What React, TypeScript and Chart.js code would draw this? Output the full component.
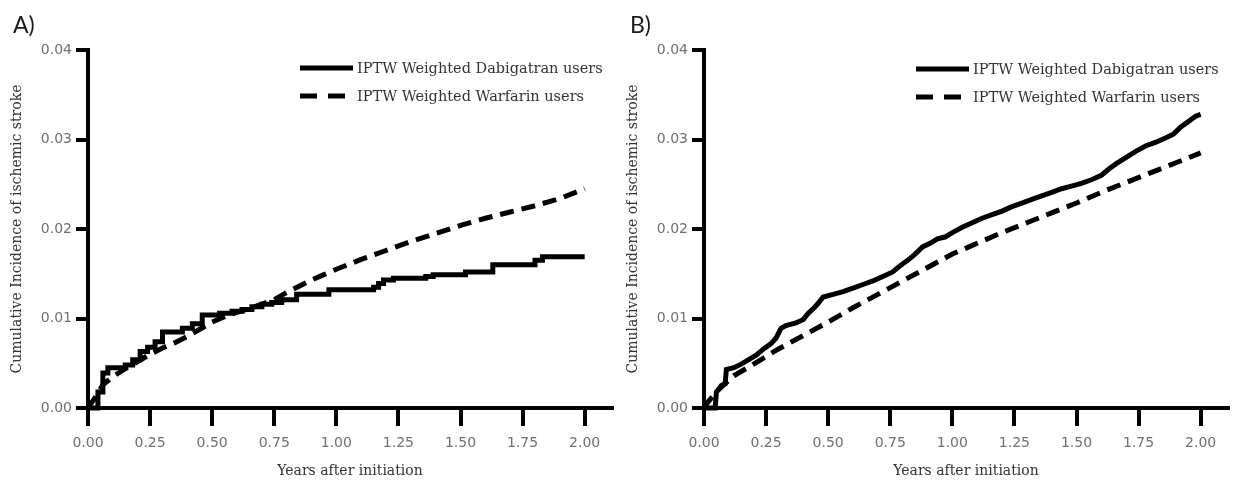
import React, { useEffect, useRef } from "react";
import { Chart, registerables } from "chart.js";

Chart.register(...registerables);

// ---------- Data ----------
const seriesLabels = ["IPTW Weighted Dabigatran users", "IPTW Weighted Warfarin users"];
const xTickValues = [0, 0.25, 0.5, 0.75, 1, 1.25, 1.5, 1.75, 2];
const yTickValues = [0, 0.01, 0.02, 0.03, 0.04];

// Panel A – Dabigatran (step curve)
const aDabYears = [0, 0.04, 0.06, 0.08, 0.15, 0.18, 0.21, 0.24, 0.27, 0.3, 0.38, 0.42, 0.46, 0.53, 0.58, 0.62, 0.66, 0.7, 0.74, 0.78, 0.84, 0.97, 1.15, 1.17, 1.19, 1.23, 1.36, 1.39, 1.52, 1.63, 1.8, 1.83, 2.0];
const aDabValues = [0, 0.0018, 0.0039, 0.0045, 0.0048, 0.0054, 0.0063, 0.0068, 0.0074, 0.0085, 0.0089, 0.0094, 0.0104, 0.0106, 0.0108, 0.011, 0.0113, 0.0116, 0.0118, 0.0121, 0.0127, 0.0132, 0.0135, 0.0139, 0.0143, 0.0145, 0.0147, 0.0149, 0.0152, 0.016, 0.0165, 0.0169, 0.0169];
// Panel A – Warfarin
const aWarYears = [0, 0.03, 0.06, 0.1, 0.15, 0.2, 0.25, 0.3, 0.35, 0.4, 0.45, 0.5, 0.55, 0.6, 0.65, 0.7, 0.75, 0.8, 0.85, 0.9, 0.95, 1.0, 1.1, 1.2, 1.3, 1.4, 1.5, 1.6, 1.7, 1.8, 1.9, 2.0];
const aWarValues = [0, 0.0012, 0.0026, 0.0035, 0.0044, 0.0052, 0.006, 0.0067, 0.0073, 0.008, 0.0088, 0.0096, 0.0102, 0.0107, 0.0111, 0.0116, 0.0121, 0.0129, 0.0136, 0.0143, 0.0149, 0.0155, 0.0166, 0.0176, 0.0186, 0.0195, 0.0204, 0.0212, 0.0219, 0.0226, 0.0234, 0.0245];

// Panel B – Dabigatran (fine-grained jagged curve)
const bDabYears = [0, 0.045, 0.05, 0.07, 0.085, 0.09, 0.12, 0.15, 0.18, 0.21, 0.24, 0.27, 0.29, 0.31, 0.33, 0.37, 0.4, 0.42, 0.44, 0.46, 0.48, 0.52, 0.56, 0.6, 0.64, 0.68, 0.72, 0.76, 0.79, 0.82, 0.85, 0.88, 0.91, 0.94, 0.97, 1.0, 1.04, 1.08, 1.12, 1.16, 1.2, 1.24, 1.28, 1.32, 1.36, 1.4, 1.44, 1.48, 1.52, 1.56, 1.6, 1.63, 1.66, 1.7, 1.74, 1.78, 1.82, 1.86, 1.89, 1.92, 1.95, 1.98, 2.0];
const bDabValues = [0, 0, 0.0018, 0.0025, 0.0027, 0.0043, 0.0045, 0.0049, 0.0054, 0.0059, 0.0066, 0.0072, 0.0078, 0.0089, 0.0092, 0.0095, 0.0099, 0.0106, 0.0111, 0.0117, 0.0124, 0.0127, 0.013, 0.0134, 0.0138, 0.0142, 0.0147, 0.0152, 0.0159, 0.0165, 0.0172, 0.018, 0.0184, 0.0189, 0.0191, 0.0196, 0.0202, 0.0207, 0.0212, 0.0216, 0.022, 0.0225, 0.0229, 0.0233, 0.0237, 0.0241, 0.0245, 0.0248, 0.0251, 0.0255, 0.026, 0.0267, 0.0273, 0.028, 0.0287, 0.0293, 0.0297, 0.0302, 0.0306, 0.0314, 0.032, 0.0326, 0.0328];
// Panel B – Warfarin
const bWarYears = [0, 0.02, 0.05, 0.08, 0.12, 0.2, 0.3, 0.4, 0.5, 0.6, 0.7, 0.8, 0.9, 1.0, 1.1, 1.2, 1.3, 1.4, 1.5, 1.6, 1.7, 1.8, 1.9, 2.0];
const bWarValues = [0, 0.0008, 0.0018, 0.0026, 0.0036, 0.0049, 0.0066, 0.0081, 0.0096, 0.0112, 0.0127, 0.0142, 0.0157, 0.0172, 0.0184, 0.0196, 0.0207, 0.0218, 0.0229, 0.0241, 0.0252, 0.0263, 0.0274, 0.0285];

const toPoints = (xs: number[], ys: number[]) => xs.map((x, i) => ({ x, y: ys[i] }));

// ---------- Decorations plugin (panel letter + legend) ----------
const decorPlugin = {
  id: "decor",
  afterDraw(chart: any, _args: any, opts: any) {
    const { ctx, chartArea } = chart;
    ctx.save();
    ctx.fillStyle = "#1a1a1a";
    ctx.font = '23px Lato, "Open Sans", sans-serif';
    ctx.textBaseline = "alphabetic";
    ctx.textAlign = "left";
    ctx.fillText(opts.letter, opts.letterX, 33);

    const x0 = chartArea.left + opts.legendOffset;
    chart.data.datasets.forEach((ds: any, i: number) => {
      const y = opts.legendY[i];
      const dashed = Array.isArray(ds.borderDash) && ds.borderDash.length > 0;
      ctx.beginPath();
      ctx.lineWidth = 5;
      ctx.lineCap = "butt";
      ctx.strokeStyle = ds.borderColor;
      ctx.setLineDash(dashed ? [17, 11] : []);
      ctx.moveTo(x0, y);
      ctx.lineTo(x0 + (dashed ? 45 : 53), y);
      ctx.stroke();
      ctx.setLineDash([]);
      ctx.font = '14.5px "DejaVu Serif", serif';
      ctx.fillStyle = "#333";
      ctx.textBaseline = "middle";
      ctx.fillText(ds.label, x0 + 57, y + 1);
    });
    ctx.restore();
  },
};

type PanelProps = {
  letter: string;
  dabX: number[];
  dabY: number[];
  dabStepped: boolean;
  warX: number[];
  warY: number[];
  yAxisWidth: number;
  rightPad: number;
  yTitlePad: number;
  letterX: number;
  legendY: number[];
};

function Panel(p: PanelProps) {
  const ref = useRef<HTMLCanvasElement | null>(null);
  useEffect(() => {
    if (!ref.current) return;
    const tickFont = { family: '"DejaVu Sans", sans-serif', size: 14 };
    const titleFont = { family: '"DejaVu Serif", serif', size: 14, lineHeight: 1.2 };
    const chart = new Chart(ref.current, {
      type: "line",
      data: {
        datasets: [
          {
            label: seriesLabels[0],
            data: toPoints(p.dabX, p.dabY),
            borderColor: "#000",
            backgroundColor: "#000",
            borderWidth: 5,
            stepped: p.dabStepped,
            tension: 0,
            pointRadius: 0,
            fill: false,
            clip: false as any,
            borderJoinStyle: "miter",
          },
          {
            label: seriesLabels[1],
            data: toPoints(p.warX, p.warY),
            borderColor: "#000",
            backgroundColor: "#000",
            borderWidth: 5,
            borderDash: [14, 8],
            borderCapStyle: "butt",
            tension: 0,
            pointRadius: 0,
            fill: false,
            clip: false as any,
          },
        ],
      },
      options: {
        responsive: false,
        animation: false,
        layout: { padding: { top: 50, right: p.rightPad, left: 0, bottom: 0 } },
        plugins: {
          legend: { display: false },
          tooltip: { enabled: false },
          decor: {
            letter: p.letter,
            letterX: p.letterX,
            legendOffset: 212,
            legendY: p.legendY,
          },
        } as any,
        scales: {
          x: {
            type: "linear",
            min: 0,
            max: 2.11,
            afterFit: (s: any) => {
              s.height = 75;
            },
            afterBuildTicks: (s: any) => {
              s.ticks = xTickValues.map((v) => ({ value: v }));
            },
            ticks: {
              callback: (v: any) => Number(v).toFixed(2),
              font: tickFont,
              color: "#707070",
              padding: 9,
              maxRotation: 0,
              autoSkip: false,
            },
            grid: {
              drawOnChartArea: false,
              drawTicks: true,
              tickLength: 18,
              tickWidth: 4,
              tickColor: "#000",
              lineWidth: 4,
              color: "#000",
            },
            border: { display: true, width: 4, color: "#000" },
            title: {
              display: true,
              text: "Years after initiation",
              font: titleFont,
              color: "#333",
              padding: { top: 0, bottom: 3 },
            },
          },
          y: {
            type: "linear",
            min: 0,
            max: 0.04,
            afterFit: (s: any) => {
              s.width = p.yAxisWidth;
            },
            afterBuildTicks: (s: any) => {
              s.ticks = yTickValues.map((v) => ({ value: v }));
            },
            ticks: {
              callback: (v: any) => Number(v).toFixed(2),
              font: tickFont,
              color: "#707070",
              padding: 4,
            },
            grid: {
              drawOnChartArea: false,
              drawTicks: true,
              tickLength: 12,
              tickWidth: 4,
              tickColor: "#000",
              lineWidth: 4,
              color: "#000",
            },
            border: { display: true, width: 4, color: "#000" },
            title: {
              display: true,
              text: "Cumulative Incidence of ischemic stroke",
              font: titleFont,
              color: "#333",
              padding: { top: p.yTitlePad, bottom: 0 },
            },
          },
        },
      } as any,
      plugins: [decorPlugin],
    });
    return () => chart.destroy();
  }, []);
  return <canvas ref={ref} width={618} height={483} style={{ display: "block", width: 618, height: 483 }} />;
}

export default function App() {
  return (
    <div
      style={{
        position: "fixed",
        left: 0,
        top: 0,
        width: 1236,
        height: 483,
        background: "#fff",
        display: "flex",
      }}
    >
      <Panel
        letter="A)"
        dabX={aDabYears}
        dabY={aDabValues}
        dabStepped={true}
        warX={aWarYears}
        warY={aWarValues}
        yAxisWidth={88}
        rightPad={6}
        yTitlePad={9}
        letterX={13}
        legendY={[68, 96]}
      />
      <Panel
        letter="B)"
        dabX={bDabYears}
        dabY={bDabValues}
        dabStepped={false}
        warX={bWarYears}
        warY={bWarValues}
        yAxisWidth={86}
        rightPad={8}
        yTitlePad={7}
        letterX={12}
        legendY={[69, 97]}
      />
    </div>
  );
}
